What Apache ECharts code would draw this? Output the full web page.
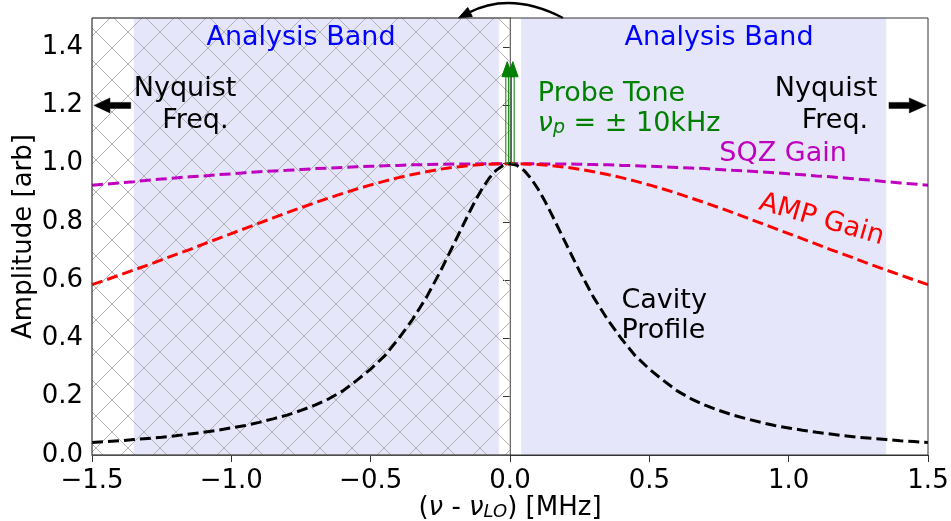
<!DOCTYPE html>
<html>
<head>
<meta charset="utf-8">
<script src="https://cdn.jsdelivr.net/npm/echarts@6/dist/echarts.min.js"></script>
<style>
  html, body { margin: 0; padding: 0; background: #ffffff; }
  #chart { width: 951px; height: 521px; }
</style>
</head>
<body>
<div id="chart"></div>
<script>
// Detuning from the local oscillator, in MHz
const freqMHz = [-1.5, -1.45, -1.4, -1.35, -1.3, -1.25, -1.2, -1.15, -1.1, -1.05, -1.0, -0.95, -0.9, -0.85, -0.8, -0.75, -0.7, -0.65, -0.6, -0.55,
  -0.5, -0.45, -0.4, -0.35, -0.3, -0.25, -0.2, -0.175, -0.15, -0.125, -0.1, -0.075, -0.05, -0.025,
  0,
  0.025, 0.05, 0.075, 0.1, 0.125, 0.15, 0.175, 0.2, 0.25, 0.3, 0.35, 0.4, 0.45, 0.5,
  0.55, 0.6, 0.65, 0.7, 0.75, 0.8, 0.85, 0.9, 0.95, 1.0, 1.05, 1.1, 1.15, 1.2, 1.25, 1.3, 1.35, 1.4, 1.45, 1.5];

// Cavity transmission profile (normalised)
const cavityProfile = [0.043, 0.046, 0.049, 0.053, 0.057, 0.061, 0.066, 0.072, 0.078, 0.085, 0.093, 0.101, 0.112, 0.124, 0.137, 0.153, 0.171, 0.193, 0.220, 0.256,
  0.295, 0.340, 0.399, 0.465, 0.541, 0.630, 0.727, 0.776, 0.825, 0.872, 0.914, 0.950, 0.977, 0.994,
  1.000,
  0.994, 0.977, 0.950, 0.914, 0.872, 0.825, 0.776, 0.727, 0.630, 0.541, 0.465, 0.399, 0.340, 0.295,
  0.256, 0.220, 0.193, 0.171, 0.153, 0.137, 0.124, 0.112, 0.101, 0.093, 0.085, 0.078, 0.072, 0.066, 0.061, 0.057, 0.053, 0.049, 0.046, 0.043];

// Amplifier gain (normalised)
const ampGain = [0.585, 0.601, 0.618, 0.635, 0.652, 0.670, 0.688, 0.705, 0.724, 0.742, 0.760, 0.778, 0.796, 0.814, 0.832, 0.849, 0.866, 0.882, 0.898, 0.913,
  0.927, 0.940, 0.952, 0.963, 0.972, 0.981, 0.988, 0.990, 0.993, 0.995, 0.997, 0.998, 0.999, 1.000,
  1.000,
  1.000, 0.999, 0.998, 0.997, 0.995, 0.993, 0.990, 0.988, 0.981, 0.972, 0.963, 0.952, 0.940, 0.927,
  0.913, 0.898, 0.882, 0.866, 0.849, 0.832, 0.814, 0.796, 0.778, 0.760, 0.742, 0.724, 0.705, 0.688, 0.670, 0.652, 0.635, 0.618, 0.601, 0.585];

// Squeezing gain (normalised)
const sqzGain = [0.926, 0.930, 0.934, 0.938, 0.943, 0.947, 0.951, 0.955, 0.958, 0.962, 0.965, 0.969, 0.972, 0.975, 0.977, 0.980, 0.983, 0.985, 0.987, 0.989,
  0.991, 0.993, 0.994, 0.996, 0.997, 0.998, 0.999, 0.999, 0.999, 0.999, 1.000, 1.000, 1.000, 1.000,
  1.000,
  1.000, 1.000, 1.000, 1.000, 0.999, 0.999, 0.999, 0.999, 0.998, 0.997, 0.996, 0.994, 0.993, 0.991,
  0.989, 0.987, 0.985, 0.983, 0.980, 0.977, 0.975, 0.972, 0.969, 0.965, 0.962, 0.958, 0.955, 0.951, 0.947, 0.943, 0.938, 0.934, 0.930, 0.926];

// Axis ticks
const xTicks = [-1.5, -1.0, -0.5, 0.0, 0.5, 1.0, 1.5];
const yTicks = [0.0, 0.2, 0.4, 0.6, 0.8, 1.0, 1.2, 1.4];

// Shaded regions (MHz)
const analysisBands = [[-1.35, -0.04], [0.04, 1.35]];
const aliasedSpan = [-1.5, 0.0];

// Probe tones at +/- 10 kHz and their arrow heights
const probeTonesMHz = [-0.01, 0.01];
const probeBase = 1.0;
const probeTip = 1.35;

const FONT = 'DejaVu Sans';
const FS = 26;      // tick labels and axis titles
const FS_NOTE = 27; // annotations inside the frame

const chart = echarts.init(document.getElementById('chart'), null, { renderer: 'canvas' });

function tickText(v) {
  const s = Math.abs(v).toFixed(1);
  return v < 0 ? '\u2212' + s : s;
}

function hatchTile(size, color) {
  const c = document.createElement('canvas');
  c.width = size; c.height = size;
  const g = c.getContext('2d');
  g.strokeStyle = color;
  g.lineWidth = 1;
  g.beginPath();
  g.moveTo(0, 0); g.lineTo(size, size);
  g.moveTo(0, size); g.lineTo(size, 0);
  g.stroke();
  return c;
}

function curve(name, values, color) {
  return {
    name: name,
    type: 'line',
    data: freqMHz.map((x, i) => [x, values[i]]),
    showSymbol: false,
    smooth: false,
    silent: true,
    z: 3,
    lineStyle: { color: color, width: 3, type: [11, 5] }
  };
}

const axisFontRich = {
  it: { fontStyle: 'italic', fontSize: FS, fontFamily: FONT, color: '#000' },
  sub: { fontStyle: 'italic', fontSize: 18, fontFamily: FONT, color: '#000', verticalAlign: 'bottom', lineHeight: 18 }
};

const option = {
  animation: false,
  backgroundColor: '#ffffff',
  grid: { left: 92, right: 23, top: 18, bottom: 66, containLabel: false, outerBoundsMode: 'none' },
  xAxis: {
    type: 'value', min: -1.5, max: 1.5, interval: 0.5,
    axisLine: { show: true, lineStyle: { color: '#333', width: 1 } },
    axisTick: { show: true, length: 7, lineStyle: { color: '#333', width: 1 }, customValues: xTicks },
    axisLabel: { customValues: xTicks, formatter: tickText, color: '#000', fontSize: FS, fontFamily: FONT, margin: 13 },
    splitLine: { show: false },
    name: '({it|\u03bd} - {it|\u03bd}{sub|LO}) [MHz]',
    nameLocation: 'middle',
    nameGap: 40,
    nameMoveOverlap: false,
    nameTextStyle: { color: '#000', fontSize: FS, fontFamily: FONT, rich: axisFontRich }
  },
  yAxis: {
    type: 'value', min: 0, max: 1.5, interval: 0.2,
    axisLine: { show: true, lineStyle: { color: '#333', width: 1 } },
    axisTick: { show: true, length: 7, lineStyle: { color: '#333', width: 1 }, customValues: yTicks },
    axisLabel: { customValues: yTicks, formatter: tickText, color: '#000', fontSize: FS, fontFamily: FONT, margin: 9 },
    splitLine: { show: false },
    name: 'Amplitude [arb]',
    nameLocation: 'middle',
    nameGap: 55,
    nameMoveOverlap: false,
    nameTextStyle: { color: '#000', fontSize: FS, fontFamily: FONT }
  },
  series: [
    {
      name: 'bands', type: 'line', data: [], silent: true, z: 1,
      markArea: {
        silent: true, z: 1,
        itemStyle: { color: '#e6e6fa' },
        data: analysisBands.map(b => [{ xAxis: b[0] }, { xAxis: b[1] }])
      }
    },
    {
      name: 'aliased', type: 'line', data: [], silent: true, z: 1,
      markArea: {
        silent: true, z: 1.5,
        itemStyle: {
          color: { image: hatchTile(32, '#b0b0b0'), repeat: 'repeat' },
          borderColor: '#a6a6a6', borderWidth: 1
        },
        data: [[{ xAxis: aliasedSpan[0] }, { xAxis: aliasedSpan[1] }]]
      }
    },
    curve('SQZ Gain', sqzGain, '#bf00bf'),
    curve('AMP Gain', ampGain, '#ff0000'),
    curve('Cavity Profile', cavityProfile, '#000000')
  ]
};

chart.setOption(option);

function px(x, y) { return chart.convertToPixel({ gridIndex: 0 }, [x, y]); }

function note(text, x, y, color, opts) {
  opts = opts || {};
  const p = px(x, y);
  return {
    type: 'text', x: p[0], y: p[1], rotation: opts.rotation || 0, z: 50, silent: true,
    style: {
      text: text, fill: color, fontSize: FS_NOTE, fontFamily: FONT,
      align: opts.align || 'center', verticalAlign: 'middle', rich: opts.rich
    }
  };
}

function fatArrow(from, to, shaftHalf, headHalf, headLen) {
  const a = px(from[0], from[1]), b = px(to[0], to[1]);
  const dx = b[0] - a[0], dy = b[1] - a[1], L = Math.hypot(dx, dy);
  const ux = dx / L, uy = dy / L, nx = -uy, ny = ux;
  const bx = b[0] - ux * headLen, by = b[1] - uy * headLen;
  return [
    [a[0] + nx * shaftHalf, a[1] + ny * shaftHalf],
    [bx + nx * shaftHalf, by + ny * shaftHalf],
    [bx + nx * headHalf, by + ny * headHalf],
    [b[0], b[1]],
    [bx - nx * headHalf, by - ny * headHalf],
    [bx - nx * shaftHalf, by - ny * shaftHalf],
    [a[0] - nx * shaftHalf, a[1] - ny * shaftHalf]
  ];
}

const greenRich = {
  it: { fontStyle: 'italic', fontSize: FS_NOTE, fontFamily: FONT, color: '#008000' },
  sub: { fontStyle: 'italic', fontSize: 19, fontFamily: FONT, color: '#008000', verticalAlign: 'bottom', lineHeight: 19 }
};

const g = [];

// Band and curve annotations
g.push(note('Analysis Band', -0.75, 1.43, '#0000ff'));
g.push(note('Analysis Band', 0.75, 1.43, '#0000ff'));
g.push(note('Nyquist', -1.166, 1.257, '#000'));
g.push(note('Freq.', -1.129, 1.148, '#000'));
g.push(note('Nyquist', 1.134, 1.257, '#000'));
g.push(note('Freq.', 1.166, 1.148, '#000'));
g.push(note('Probe Tone', 0.1, 1.239, '#008000', { align: 'left' }));
g.push(note('{it|\u03bd}{sub|p} = \u00b1 10kHz', 0.1, 1.136, '#008000', { align: 'left', rich: greenRich }));
g.push(note('SQZ Gain', 0.98, 1.033, '#bf00bf'));
g.push(note('AMP Gain', 1.118, 0.807, '#ff0000', { rotation: -16 * Math.PI / 180 }));
g.push(note('Cavity', 0.40, 0.529, '#000', { align: 'left' }));
g.push(note('Profile', 0.40, 0.426, '#000', { align: 'left' }));

// Nyquist frequency arrows
g.push({ type: 'polygon', z: 40, silent: true, shape: { points: fatArrow([-1.361, 1.2], [-1.493, 1.2], 3, 7.5, 16) }, style: { fill: '#000', stroke: '#000', lineWidth: 0.5 } });
g.push({ type: 'polygon', z: 40, silent: true, shape: { points: fatArrow([1.36, 1.2], [1.494, 1.2], 3, 7.5, 17) }, style: { fill: '#000', stroke: '#000', lineWidth: 0.5 } });

// Probe tone arrows
probeTonesMHz.forEach(f => {
  const a = px(f, probeBase), t = px(f, probeTip);
  const headLen = 15, headHalf = 5.3, shaftHalf = 1.4;
  const by = t[1] + headLen;
  g.push({ type: 'polygon', z: 41, silent: true,
    shape: { points: [[a[0] - shaftHalf, a[1]], [a[0] - shaftHalf, by], [a[0] + shaftHalf, by], [a[0] + shaftHalf, a[1]]] },
    style: { fill: 'none', stroke: '#008000', lineWidth: 1 } });
  g.push({ type: 'polygon', z: 42, silent: true,
    shape: { points: [[t[0], t[1]], [t[0] - headHalf, by], [t[0] + headHalf, by]] },
    style: { fill: '#008000', stroke: '#008000', lineWidth: 1 } });
});

// Curved arrow above the frame, pointing from the upper to the lower sideband
(function () {
  const s = px(0.19, 1.5), e = px(-0.185, 1.5);
  const cp = [(s[0] + e[0]) / 2, s[1] - 27];
  const tx = e[0] - cp[0], ty = e[1] - cp[1], L = Math.hypot(tx, ty);
  const ux = tx / L, uy = ty / L, nx = -uy, ny = ux;
  const headLen = 13, headHalf = 5;
  const bx = e[0] - ux * headLen, by = e[1] - uy * headLen;
  g.push({ type: 'bezierCurve', z: 45, silent: true,
    shape: { x1: s[0], y1: s[1], x2: bx + ux * 2, y2: by + uy * 2, cpx1: cp[0], cpy1: cp[1] },
    style: { stroke: '#000', lineWidth: 2.5, fill: 'none' } });
  g.push({ type: 'polygon', z: 46, silent: true,
    shape: { points: [[e[0], e[1]], [bx + nx * headHalf, by + ny * headHalf], [bx - nx * headHalf, by - ny * headHalf]] },
    style: { fill: '#000', stroke: '#000', lineWidth: 1 } });
})();

// Frame around the plotting area
(function () {
  const tl = px(-1.5, 1.5), br = px(1.5, 0);
  g.push({ type: 'rect', z: 60, silent: true,
    shape: { x: tl[0], y: tl[1], width: br[0] - tl[0], height: br[1] - tl[1] },
    style: { fill: 'none', stroke: '#333', lineWidth: 1 } });
})();

chart.setOption({ graphic: g });
</script>
</body>
</html>
